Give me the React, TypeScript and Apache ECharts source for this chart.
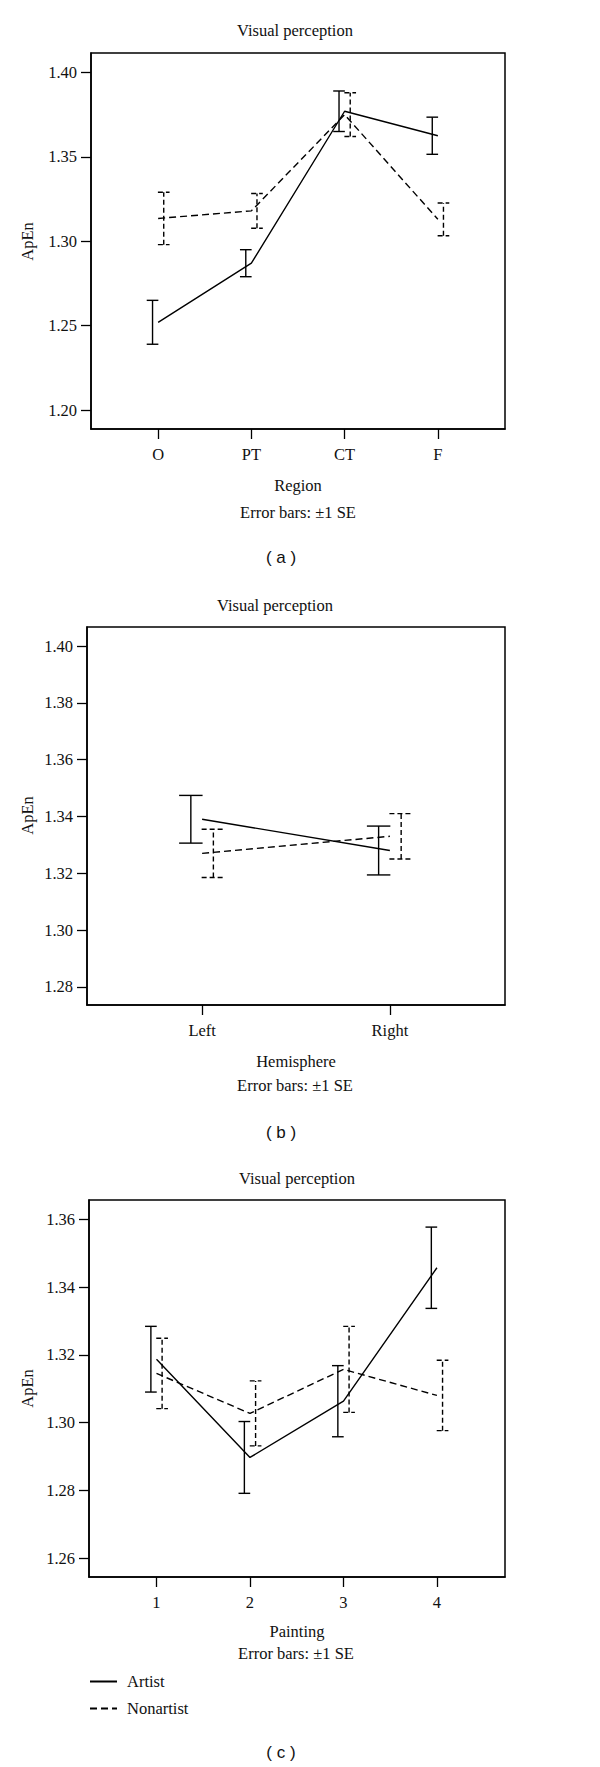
import React, { useEffect, useRef } from 'react';
import * as echarts from 'echarts';

// Panel (a): Region
const regionCategories = ['O', 'PT', 'CT', 'F'];
const regionArtistMean = [1.252, 1.287, 1.377, 1.3625];
const regionArtistSE = [0.013, 0.008, 0.012, 0.011];
const regionNonartistMean = [1.3135, 1.318, 1.375, 1.313];
const regionNonartistSE = [0.0155, 0.0103, 0.013, 0.0097];
const regionTicks = [1.2, 1.25, 1.3, 1.35, 1.4];

// Panel (b): Hemisphere
const hemiCategories = ['Left', 'Right'];
const hemiArtistMean = [1.339, 1.328];
const hemiArtistSE = [0.0084, 0.0086];
const hemiNonartistMean = [1.327, 1.333];
const hemiNonartistSE = [0.0085, 0.008];
const hemiTicks = [1.28, 1.3, 1.32, 1.34, 1.36, 1.38, 1.4];

// Panel (c): Painting
const paintCategories = ['1', '2', '3', '4'];
const paintArtistMean = [1.3187, 1.2897, 1.3063, 1.3457];
const paintArtistSE = [0.0097, 0.0106, 0.0105, 0.012];
const paintNonartistMean = [1.3145, 1.3027, 1.3157, 1.308];
const paintNonartistSE = [0.0104, 0.0096, 0.0127, 0.0104];
const paintTicks = [1.26, 1.28, 1.3, 1.32, 1.34, 1.36];

const SERIF = '"Liberation Serif", "DejaVu Serif", serif';
const SANS = '"Liberation Sans", Arial, sans-serif';
const FS = 16.5;
const INK = '#111';
const DODGE = 0.06;
const CAP = 0.0625;

const panels = [
  {
    cats: regionCategories, aM: regionArtistMean, aS: regionArtistSE, nM: regionNonartistMean, nS: regionNonartistSE,
    ticks: regionTicks, yMin: 1.1888, yMax: 1.4115, xMin: 0.28, xMax: 4.72, digits: 2,
    grid: { left: 91, top: 53, width: 414, height: 376 },
  },
  {
    cats: hemiCategories, aM: hemiArtistMean, aS: hemiArtistSE, nM: hemiNonartistMean, nS: hemiNonartistSE,
    ticks: hemiTicks, yMin: 1.2736, yMax: 1.4067, xMin: 0.387, xMax: 2.613, digits: 2,
    grid: { left: 87, top: 627, width: 418, height: 378 },
  },
  {
    cats: paintCategories, aM: paintArtistMean, aS: paintArtistSE, nM: paintNonartistMean, nS: paintNonartistSE,
    ticks: paintTicks, yMin: 1.2544, yMax: 1.3657, xMin: 0.278, xMax: 4.728, digits: 2,
    grid: { left: 89, top: 1200, width: 416, height: 377 },
  },
];

function errRender(dashed: boolean) {
  return (params: any, api: any) => {
    const x = api.value(0);
    const lo = api.value(1);
    const hi = api.value(2);
    const pLo = api.coord([x, lo]);
    const pHi = api.coord([x, hi]);
    const tL = api.coord([x - CAP, hi]);
    const tR = api.coord([x + CAP, hi]);
    const bL = api.coord([x - CAP, lo]);
    const bR = api.coord([x + CAP, lo]);
    const style: any = { stroke: '#000', lineWidth: 1.4, fill: null };
    if (dashed) style.lineDash = [5, 3];
    return {
      type: 'group',
      children: [
        { type: 'line', shape: { x1: pLo[0], y1: pLo[1], x2: pHi[0], y2: pHi[1] }, style },
        { type: 'line', shape: { x1: tL[0], y1: tL[1], x2: tR[0], y2: tR[1] }, style },
        { type: 'line', shape: { x1: bL[0], y1: bL[1], x2: bR[0], y2: bR[1] }, style },
      ],
    };
  };
}

function textEl(text: string, x: number, y: number, opts: any = {}) {
  return {
    type: 'text',
    x,
    y,
    rotation: opts.rotation || 0,
    style: {
      text,
      fill: INK,
      fontSize: opts.fontSize || FS,
      fontFamily: opts.fontFamily || SERIF,
      align: 'center',
      verticalAlign: 'middle',
      textAlign: 'center',
      textVerticalAlign: 'middle',
    },
  };
}

export default function App() {
  const ref = useRef<HTMLDivElement>(null);
  useEffect(() => {
    if (!ref.current) return;
    const chart = echarts.init(ref.current, undefined, { renderer: 'svg' });
    const grids: any[] = [];
    const xAxes: any[] = [];
    const yAxes: any[] = [];
    const series: any[] = [];
    panels.forEach((p, i) => {
      grids.push({
        ...p.grid,
        show: true,
        borderColor: '#000',
        borderWidth: 1.5,
        backgroundColor: 'transparent',
      });
      const xVals = p.cats.map((_, k) => k + 1);
      xAxes.push({
        type: 'value',
        gridIndex: i,
        min: p.xMin,
        max: p.xMax,
        axisLine: { show: true, lineStyle: { color: '#000', width: 1.5 } },
        axisTick: { show: true, length: 10, lineStyle: { color: '#000', width: 1.3 }, customValues: xVals },
        axisLabel: {
          customValues: xVals,
          formatter: (v: number) => p.cats[Math.round(v) - 1] ?? '',
          color: INK,
          fontFamily: SERIF,
          fontSize: FS,
          margin: 17,
        },
        splitLine: { show: false },
      });
      yAxes.push({
        type: 'value',
        gridIndex: i,
        min: p.yMin,
        max: p.yMax,
        axisLine: { show: true, lineStyle: { color: '#000', width: 1.5 } },
        axisTick: { show: true, length: 10, lineStyle: { color: '#000', width: 1.3 }, customValues: p.ticks },
        axisLabel: {
          customValues: p.ticks,
          formatter: (v: number) => v.toFixed(p.digits),
          color: INK,
          fontFamily: SERIF,
          fontSize: FS,
          margin: 14,
        },
        splitLine: { show: false },
      });
      series.push({
        name: 'Artist',
        type: 'line',
        xAxisIndex: i,
        yAxisIndex: i,
        symbol: 'none',
        lineStyle: { color: '#000', width: 1.4, type: 'solid' },
        itemStyle: { color: '#000' },
        data: p.aM.map((m, k) => [k + 1, m]),
        z: 3,
      });
      series.push({
        name: 'Nonartist',
        type: 'line',
        xAxisIndex: i,
        yAxisIndex: i,
        symbol: 'none',
        lineStyle: { color: '#000', width: 1.4, type: [7, 4] },
        itemStyle: { color: '#000' },
        data: p.nM.map((m, k) => [k + 1, m]),
        z: 3,
      });
      series.push({
        name: 'errA' + i,
        type: 'custom',
        xAxisIndex: i,
        yAxisIndex: i,
        renderItem: errRender(false),
        encode: { x: 0, y: [1, 2] },
        data: p.aM.map((m, k) => [k + 1 - DODGE, m - p.aS[k], m + p.aS[k]]),
        z: 4,
      });
      series.push({
        name: 'errN' + i,
        type: 'custom',
        xAxisIndex: i,
        yAxisIndex: i,
        renderItem: errRender(true),
        encode: { x: 0, y: [1, 2] },
        data: p.nM.map((m, k) => [k + 1 + DODGE, m - p.nS[k], m + p.nS[k]]),
        z: 4,
      });
    });

    const graphics = [
      textEl('Visual perception', 295, 30),
      textEl('ApEn', 27, 241.5, { rotation: Math.PI / 2 }),
      textEl('Region', 298, 485),
      textEl('Error bars: \u00b11 SE', 298, 512),
      textEl('( a )', 281, 557, { fontFamily: SANS, fontSize: 17 }),

      textEl('Visual perception', 275, 605),
      textEl('ApEn', 27, 815.5, { rotation: Math.PI / 2 }),
      textEl('Hemisphere', 296, 1061),
      textEl('Error bars: \u00b11 SE', 295, 1085),
      textEl('( b )', 281, 1132, { fontFamily: SANS, fontSize: 17 }),

      textEl('Visual perception', 297, 1178),
      textEl('ApEn', 27, 1388.5, { rotation: Math.PI / 2 }),
      textEl('Painting', 297, 1631),
      textEl('Error bars: \u00b11 SE', 296, 1653),
      textEl('( c )', 281, 1752, { fontFamily: SANS, fontSize: 17 }),
    ];

    chart.setOption({
      animation: false,
      backgroundColor: '#fff',
      grid: grids,
      xAxis: xAxes,
      yAxis: yAxes,
      series,
      legend: {
        data: ['Artist', 'Nonartist'],
        orient: 'vertical',
        left: 89,
        top: 1673,
        itemWidth: 27,
        itemHeight: 14,
        itemGap: 10,
        padding: 0,
        selectedMode: false,
        itemStyle: { opacity: 0 },
        lineStyle: { inactiveWidth: 1.4 },
        textStyle: { fontFamily: SERIF, fontSize: FS, color: INK, padding: [0, 0, 0, 5] },
      },
      graphic: graphics,
    });
    return () => chart.dispose();
  }, []);
  return (
    <div
      ref={ref}
      style={{ position: 'absolute', left: 0, top: 0, width: 600, height: 1767, background: '#fff' }}
    />
  );
}
